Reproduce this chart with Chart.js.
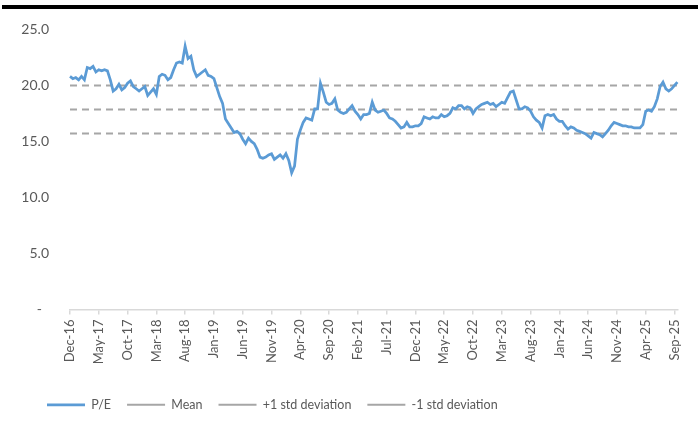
<!DOCTYPE html>
<html>
<head>
<meta charset="utf-8">
<script src="https://cdn.jsdelivr.net/npm/chart.js@4.4.1/dist/chart.umd.min.js"></script>
<style>
  html, body { margin: 0; padding: 0; background: #fff; }
  #wrap { position: relative; width: 698px; height: 421px; }
  #topRule { position: absolute; left: 2px; right: 0; top: 5px; height: 4px; background: #000; }
</style>
</head>
<body>
<div id="wrap">
  <div id="topRule"></div>
  <canvas id="peChart" width="698" height="421"></canvas>
</div>
<script>
// P/E readings, two per month, starting Dec-16
const peValues = [
  20.8, 20.6, 20.7, 20.5, 20.8, 20.5, 21.6, 21.5, 21.7, 21.2,
  21.4, 21.3, 21.4, 21.3, 20.5, 19.5, 19.7, 20.1, 19.6, 19.8,
  20.2, 20.4, 19.9, 19.7, 19.5, 19.7, 19.9, 19.1, 19.4, 19.7,
  19.2, 20.8, 21.0, 20.9, 20.5, 20.7, 21.4, 22.0, 22.1, 22.0,
  23.5, 22.4, 22.6, 21.4, 20.8, 21.0, 21.2, 21.4, 20.9, 20.8,
  20.6, 19.8, 19.0, 18.4, 17.0, 16.6, 16.2, 15.8, 15.9, 15.7,
  15.2, 14.8, 15.3, 15.0, 14.8, 14.3, 13.6, 13.5, 13.6, 13.8,
  13.9, 13.4, 13.6, 13.8, 13.5, 13.9, 13.3, 12.2, 12.8, 15.2,
  16.0, 16.7, 17.1, 17.0, 16.9, 17.9, 17.9, 20.2, 19.4, 18.5,
  18.3, 18.4, 18.8, 17.8, 17.6, 17.5, 17.6, 17.9, 18.2, 17.7,
  17.4, 17.0, 17.4, 17.4, 17.5, 18.5, 17.8, 17.6, 17.7, 17.8,
  17.5, 17.1, 17.0, 16.8, 16.5, 16.2, 16.3, 16.7, 16.3, 16.3,
  16.4, 16.4, 16.6, 17.2, 17.1, 17.0, 17.2, 17.1, 17.1, 17.4,
  17.2, 17.3, 17.5, 18.0, 17.9, 18.2, 18.2, 17.9, 18.1, 18.0,
  17.5, 17.9, 18.1, 18.3, 18.4, 18.5, 18.3, 18.4, 18.1, 18.3,
  18.5, 18.4, 18.9, 19.4, 19.5, 18.7, 17.9, 17.9, 18.1, 18.0,
  17.7, 17.2, 16.9, 16.7, 16.2, 17.3, 17.4, 17.3, 17.4, 17.0,
  16.8, 16.8, 16.4, 16.1, 16.3, 16.2, 16.0, 15.9, 15.8, 15.7,
  15.5, 15.3, 15.8, 15.7, 15.6, 15.4, 15.7, 16.0, 16.4, 16.7,
  16.6, 16.5, 16.4, 16.4, 16.3, 16.3, 16.2, 16.2, 16.2, 16.5,
  17.7, 17.8, 17.7, 18.1, 18.8, 19.9, 20.3, 19.7, 19.5, 19.7,
  20.0, 20.3
];

const peMean = 17.85;
const peUpper = 20.0;   // +1 std deviation
const peLower = 15.7;   // -1 std deviation

const yTicks = [0, 5, 10, 15, 20, 25];
const monthNames = ['Jan', 'Feb', 'Mar', 'Apr', 'May', 'Jun', 'Jul', 'Aug', 'Sep', 'Oct', 'Nov', 'Dec'];

// category labels: month of each reading (Dec-16 is month 11 of 2016)
const periods = peValues.map((_, i) => {
  const m = 11 + Math.floor(i / 2);
  const yr = 2016 + Math.floor(m / 12);
  return monthNames[m % 12] + '-' + String(yr).slice(2);
});

const TEXT = '#595959';
const FONT = 'Lato, "Open Sans", sans-serif';
const LEGEND_PAD = 16;
const flat = v => periods.map(() => v);

const refLine = (label, value) => ({
  label: label,
  data: flat(value),
  borderColor: '#a6a6a6',
  backgroundColor: '#a6a6a6',
  borderWidth: 2,
  borderDash: [7, 5],
  pointRadius: 0,
  fill: false
});

// push the legend row in a little from the left edge
const legendIndent = {
  id: 'legendIndent',
  afterLayout(chart) {
    chart.legend.left = 47 - LEGEND_PAD;
  }
};

new Chart(document.getElementById('peChart'), {
  type: 'line',
  data: {
    labels: periods,
    datasets: [
      {
        label: 'P/E',
        data: peValues,
        borderColor: '#5b9bd5',
        backgroundColor: '#5b9bd5',
        borderWidth: 2.75,
        pointRadius: 0,
        tension: 0,
        fill: false
      },
      refLine('Mean', peMean),
      refLine('+1 std deviation', peUpper),
      refLine('-1 std deviation', peLower)
    ]
  },
  plugins: [legendIndent],
  options: {
    responsive: false,
    animation: false,
    layout: { padding: { left: 0, right: 16, top: 29, bottom: 0 } },
    plugins: {
      tooltip: { enabled: false },
      legend: {
        position: 'bottom',
        align: 'start',
        labels: {
          usePointStyle: true,
          pointStyle: 'line',
          pointStyleWidth: 38,
          padding: LEGEND_PAD,
          color: TEXT,
          font: { family: FONT, size: 12.5 },
          generateLabels: function(chart) {
            const items = Chart.defaults.plugins.legend.labels.generateLabels(chart);
            items.forEach(it => {
              if (it.lineDash && it.lineDash.length) it.lineDash = [5, 4];
            });
            return items;
          }
        }
      }
    },
    scales: {
      x: {
        afterFit: function(scale) { scale.height = 73; },
        grid: {
          drawOnChartArea: false,
          tickLength: 5,
          color: ctx => (ctx.index % 10 === 0 ? '#d9d9d9' : 'rgba(0,0,0,0)'),
          lineWidth: 1.5
        },
        border: { color: '#d9d9d9', width: 1.5 },
        ticks: {
          autoSkip: false,
          minRotation: 90,
          maxRotation: 90,
          padding: 5,
          color: TEXT,
          font: { family: FONT, size: 13 },
          callback: function(val, i) {
            return i % 10 === 0 ? this.getLabelForValue(val) : '';
          }
        }
      },
      y: {
        min: 0,
        max: 25,
        afterFit: function(scale) { scale.width = 70; },
        afterBuildTicks: function(scale) { scale.ticks = yTicks.map(v => ({ value: v })); },
        grid: { display: false, drawTicks: false },
        border: { display: false },
        ticks: {
          padding: 21,
          color: TEXT,
          font: { family: FONT, size: 14 },
          callback: v => (v === 0 ? '-  ' : v.toFixed(1))
        }
      }
    }
  }
});
</script>
</body>
</html>
